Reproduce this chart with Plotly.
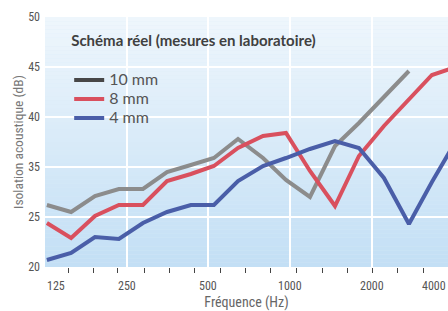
import math
import plotly.graph_objects as go

# ---------------- data ----------------
freq_hz = [127, 156, 191, 234, 287, 352, 431, 524, 643, 795, 966, 1184,
           1464, 1794, 2218, 2742, 3333, 4086]
iso_10mm = [26.2, 25.5, 27.1, 27.8, 27.8, 29.5, 30.2, 30.9, 32.8, 30.9, 28.7,
            27.0, 32.1, 34.4, 37.0, 39.6]
iso_8mm = [24.4, 22.9, 25.1, 26.2, 26.2, 28.6, 29.3, 30.1, 31.9, 33.1, 33.4,
           29.6, 26.1, 31.1, 34.1, 36.7, 39.2, 40.0]
iso_4mm = [20.7, 21.4, 23.0, 22.8, 24.4, 25.5, 26.2, 26.2, 28.6, 30.1, 30.9,
           31.8, 32.6, 31.9, 28.9, 24.3, 28.5, 32.6]

series_names = ["10 mm", "8 mm", "4 mm"]
x_tick_vals = [125, 250, 500, 1000, 2000, 4000]
x_tick_text = ["125", "250", "500", "1000", "2000", "4000"]
x_minor_ticks = [152, 188, 232, 290, 361, 446, 552, 688, 850, 1060, 1322,
                 1635, 2021, 2498, 3115]
y_tick_vals = [20, 25, 30, 35, 40, 45]
y_tick_text = ["20", "25", "35", "40", "45", "50"]

legend_title = "Schéma réel (mesures en laboratoire)"
x_title = "Fréquence (Hz)"
y_title = "Isolation acoustique (dB)"

# ---------------- styles ----------------
line_colors = ["#8c8c8c", "#d9505e", "#4a5ea8"]
swatch_colors = ["#474747", "#d9505e", "#4a5ea8"]
narrow = "Liberation Sans Narrow, Roboto Condensed, Lato, sans-serif"
x_range = [math.log10(125), math.log10(3820)]

fig = go.Figure()
for name, ys, col in zip(series_names, [iso_10mm, iso_8mm, iso_4mm], line_colors):
    fig.add_trace(go.Scatter(x=freq_hz[:len(ys)], y=ys, mode="lines", name=name,
                             line=dict(color=col, width=4), showlegend=False,
                             hoverinfo="skip"))
for name, col in zip(series_names, swatch_colors):
    fig.add_trace(go.Scatter(x=[None], y=[None], mode="lines",
                             name='<span style="font-size:16px">%s</span>' % name,
                             line=dict(color=col, width=4), showlegend=True))

# vertical gradient background of the plot area
n = 60
top = (238, 246, 252)
bot = (195, 223, 245)
shapes = []
for i in range(n):
    t = i / (n - 1)
    c = tuple(round(bot[k] + (top[k] - bot[k]) * t) for k in range(3))
    shapes.append(dict(type="rect", xref="paper", yref="paper",
                       x0=0, x1=1, y0=i / n, y1=(i + 1) / n,
                       fillcolor="rgb(%d,%d,%d)" % c, line=dict(width=0),
                       layer="below"))

# x tick labels (kept inside the plot width like the original)
annotations = []
for v, txt in zip(x_tick_vals, x_tick_text):
    px = (math.log10(v) - x_range[0]) / (x_range[1] - x_range[0])
    anchor = "center"
    if px <= 0.001:
        anchor = "left"
    elif px >= 1:
        anchor, px = "right", 1
    annotations.append(dict(x=px, xref="paper", y=0, yref="paper",
                            text=txt, showarrow=False, xanchor=anchor,
                            yanchor="top", yshift=-10,
                            font=dict(family=narrow, size=12, color="#555555")))

fig.update_layout(
    width=448, height=311,
    margin=dict(l=45, r=0, t=17, b=41),
    paper_bgcolor="white", plot_bgcolor="#d9ebf8",
    shapes=shapes, annotations=annotations,
    showlegend=True,
    legend=dict(x=0.06, y=0.962, xanchor="left", yanchor="top",
                bgcolor="rgba(0,0,0,0)", borderwidth=0,
                font=dict(family="Lato, sans-serif", size=12, color="#555555"),
                title=dict(text="<b>" + legend_title + "</b><br> ",
                           font=dict(family="Lato, sans-serif", size=15,
                                     color="#404040"))),
    xaxis=dict(type="log", range=x_range,
               tickvals=x_tick_vals, showticklabels=False, ticks="",
               showgrid=True, gridcolor="white", gridwidth=1.5,
               zeroline=False, showline=False,
               minor=dict(tickmode="array", tickvals=x_minor_ticks,
                          ticks="outside", ticklen=5, tickwidth=1,
                          tickcolor="#444444", showgrid=False),
               title=dict(text=x_title, standoff=34,
                          font=dict(family=narrow, size=14, color="#666666"))),
    yaxis=dict(range=[20, 45], tickvals=y_tick_vals, ticktext=y_tick_text,
               showgrid=True, gridcolor="white", gridwidth=1.5,
               zeroline=False, showline=False, ticks="",
               ticklabelstandoff=4,
               tickfont=dict(family=narrow, size=12, color="#555555"),
               title=dict(text=y_title, standoff=1,
                          font=dict(family=narrow, size=13.5, color="#777777"))),
)

fig.write_html("out.html",
               config={"displayModeBar": False},
               post_script="document.body.style.margin='0';"
                           "document.body.style.overflow='hidden';")
